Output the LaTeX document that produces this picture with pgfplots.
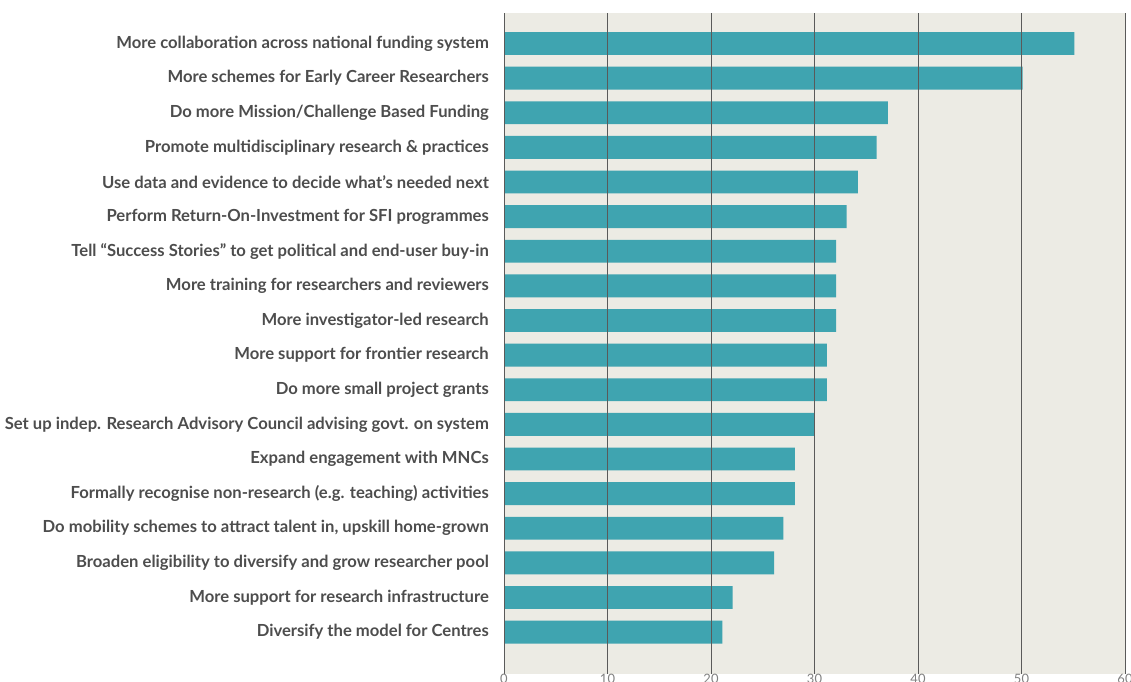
\documentclass[border=0pt]{standalone}
\usepackage{fontspec}
\setmainfont{Lato}
\usepackage{pgfplots}
\usepackage{pgfplotstable}
\pgfplotsset{compat=1.18}
\definecolor{bg}{HTML}{ECEBE4}
\definecolor{barc}{HTML}{3FA4B0}
\definecolor{gridc}{HTML}{5A5A5A}
\definecolor{labc}{HTML}{4D4D4D}
\pgfplotstableread{
y v
0 55.1
1 50.1
2 37.1
3 36.0
4 34.2
5 33.1
6 32.1
7 32.1
8 32.1
9 31.2
10 31.2
11 30.0
12 28.1
13 28.1
14 27.0
15 26.1
16 22.1
17 21.1
}\data
\begin{document}
\begin{tikzpicture}
\begin{axis}[
  at={(504bp,8bp)}, anchor=south west,
  width=621bp, height=661bp, scale only axis,
  xmin=0, xmax=60, ymin=-0.88, ymax=18.21,
  y dir=reverse,
  axis background/.style={fill=bg},
  axis line style={draw=none},
  major tick length=0pt,
  xtick={0,10,...,60},
  xmajorgrids, grid style={gridc, line width=1bp},
  axis on top,
  ytick={0,...,17},
  yticklabels={
    More collaboration across national funding system,
    More schemes for Early Career Researchers,
    Do more Mission/Challenge Based Funding,
    Promote multidisciplinary research \& practices,
    Use data and evidence to decide what’s needed next,
    Perform Return-On-Investment for SFI programmes,
    Tell “Success Stories” to get political and end-user buy-in,
    More training for researchers and reviewers,
    More investigator-led research,
    More support for frontier research,
    Do more small project grants,
    Set up indep. Research Advisory Council advising govt. on system,
    Expand engagement with MNCs,
    Formally recognise non-research (e.g. teaching) activities,
    {Do mobility schemes to attract talent in, upskill home-grown},
    Broaden eligibility to diversify and grow researcher pool,
    More support for research infrastructure,
    Diversify the model for Centres},
  yticklabel style={font=\fontsize{16.7}{16.7}\selectfont\bfseries, text=labc, inner sep=0pt, xshift=-15bp, anchor=east},
  xticklabel style={font=\fontsize{13}{13}\selectfont, text=gray, inner sep=0pt, yshift=0bp, anchor=north},
  /pgf/number format/assume math mode=true,
]
\addplot[xbar, fill=barc, draw=none, bar width=0.66, bar shift=0pt] table[x=v, y=y] {\data};
\end{axis}
\pgfresetboundingbox
\path[use as bounding box] (0,0) rectangle (1131bp,682bp);
\end{tikzpicture}
\end{document}
